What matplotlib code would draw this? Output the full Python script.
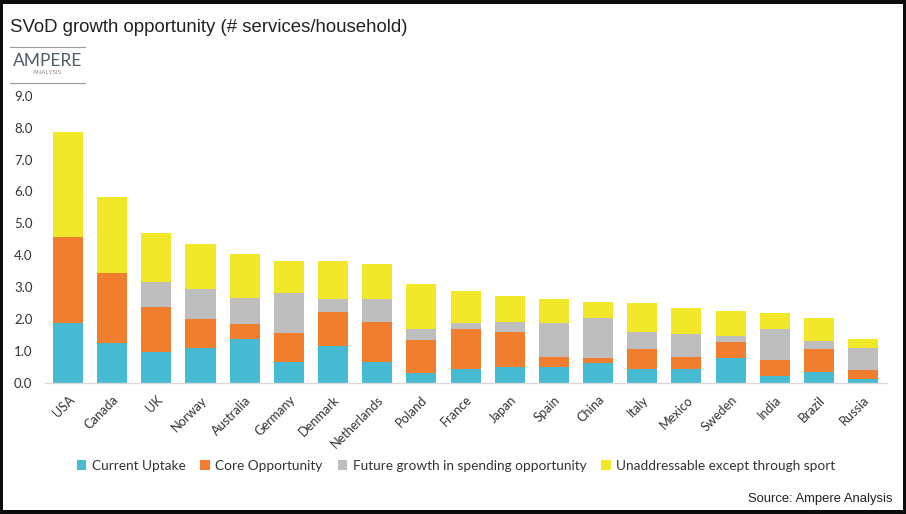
import matplotlib
matplotlib.use("Agg")
import matplotlib.pyplot as plt
from matplotlib.patches import Patch, Rectangle
from matplotlib.lines import Line2D
import numpy as np

countries = ["USA", "Canada", "UK", "Norway", "Australia", "Germany", "Denmark",
             "Netherlands", "Poland", "France", "Japan", "Spain", "China", "Italy",
             "Mexico", "Sweden", "India", "Brazil", "Russia"]
current_uptake = [1.88, 1.23, 0.97, 1.07, 1.36, 0.63, 1.15, 0.65, 0.29, 0.41,
                  0.50, 0.50, 0.60, 0.41, 0.41, 0.77, 0.21, 0.34, 0.12]
core_opportunity = [2.70, 2.22, 1.41, 0.93, 0.47, 0.94, 1.08, 1.26, 1.05, 1.26,
                    1.09, 0.31, 0.18, 0.63, 0.40, 0.51, 0.50, 0.70, 0.27]
future_growth = [0.00, 0.00, 0.79, 0.93, 0.81, 1.23, 0.38, 0.70, 0.33, 0.19,
                 0.31, 1.05, 1.24, 0.55, 0.70, 0.19, 0.96, 0.27, 0.68]
unaddressable = [3.30, 2.39, 1.53, 1.42, 1.40, 1.03, 1.22, 1.10, 1.42, 1.02,
                 0.83, 0.75, 0.52, 0.92, 0.84, 0.79, 0.50, 0.73, 0.29]
series_names = ["Current Uptake", "Core Opportunity",
                "Future growth in spending opportunity",
                "Unaddressable except through sport"]
y_ticks = [0, 1, 2, 3, 4, 5, 6, 7, 8, 9]

colors = ["#47BBD2", "#F07E2E", "#BEBEBE", "#F2E82A"]

fig = plt.figure(figsize=(9.06, 5.14), dpi=100, facecolor="#0c0c0c")
fig.patches.append(Rectangle((3/906, 4/514), 900/906, 506/514, transform=fig.transFigure,
                             facecolor="white", edgecolor="none", zorder=-10))

ax = fig.add_axes([45/906, (514-382.5)/514, (887-45)/906, (382.5-96)/514])
ax.set_facecolor("none")
ax.set_zorder(5)

x = np.arange(len(countries))
series = [current_uptake, core_opportunity, future_growth, unaddressable]
bottom = np.zeros(len(countries))
for vals, c in zip(series, colors):
    v = np.array(vals)
    ax.bar(x, v, bottom=bottom, width=0.68, color=c, edgecolor="none", zorder=2)
    bottom += v

ax.set_xlim(-0.52, 18.54)
ax.set_ylim(0, 9)
ax.set_yticks(y_ticks)
ax.set_yticklabels([f"{t:.1f}" for t in y_ticks], fontfamily="Lato", fontsize=9.5, color="#333333")
ax.set_xticks(x)
ax.set_xticklabels(countries, rotation=45, ha="right", va="top", rotation_mode="anchor",
                   fontfamily="Lato", fontsize=9.2, color="#333333")
ax.tick_params(axis="y", length=0, pad=9)
ax.tick_params(axis="x", length=0, pad=8)
for s in ["top", "right", "left"]:
    ax.spines[s].set_visible(False)
ax.spines["bottom"].set_color("#D9D9D9")
ax.spines["bottom"].set_linewidth(1)

# Title
fig.text(10/906, 1 - 28/514, "SVoD growth opportunity (# services/household)",
         fontfamily="Liberation Sans", fontsize=13.4, color="#222222", va="center", ha="left")

# Logo
fig.add_artist(Line2D([10/906, 85/906], [1 - 47/514, 1 - 47/514], color="#9a9a9a", lw=0.8))
fig.add_artist(Line2D([10/906, 85/906], [1 - 83/514, 1 - 83/514], color="#9a9a9a", lw=0.8))
fig.text(47.5/906, 1 - 61/514, "AMPERE", fontfamily="Lato", fontsize=12.5, color="#4f5b66",
         ha="center", va="center")
fig.text(47.5/906, 1 - 72.5/514, "ANALYSIS", fontfamily="Lato", fontsize=4.5, color="#8a8a8a",
         ha="center", va="center")

# Legend
handles = [Patch(facecolor=c, edgecolor="none") for c in colors]
fig.legend(handles, series_names, loc="center", bbox_to_anchor=(456/906, 1 - 466/514),
           ncol=4, frameon=False, handlelength=0.7, handleheight=0.7, handletextpad=0.4,
           columnspacing=1.1, prop={"family": "Lato", "size": 9.8}, labelcolor="#333333")

# Source
fig.text(893/906, 1 - 499/514, "Source: Ampere Analysis", fontfamily="Liberation Sans",
         fontsize=9.4, color="#222222", ha="right", va="center")

fig.savefig("out.png", dpi=100, facecolor=fig.get_facecolor())
